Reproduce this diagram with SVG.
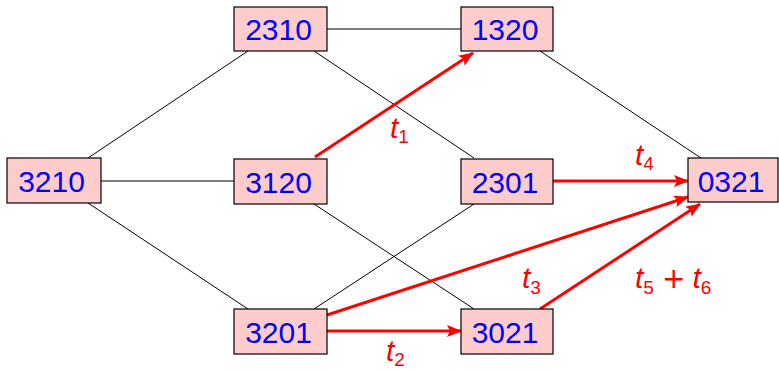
<svg xmlns="http://www.w3.org/2000/svg" width="779" height="370" viewBox="0 0 779 370">
  <defs>
    <marker id="arrow" viewBox="0 0 15 12" refX="14" refY="6" markerWidth="15" markerHeight="12" markerUnits="userSpaceOnUse" orient="auto">
      <path d="M0,0 L15,6 L0,12 L3,6 Z" fill="#ff0000"/>
    </marker>
  </defs>
  <style>
    .box { fill: #ffcccc; stroke: #000; stroke-width: 1.2; }
    .lbl { font-family: "Liberation Sans", Arial, sans-serif; font-size: 30px; fill: #0000ff; text-anchor: middle; }
    .edge { stroke: #000; stroke-width: 1; fill: none; }
    .trans { stroke: #ff0000; stroke-width: 3; fill: none; marker-end: url(#arrow); }
    .t { font-family: "Liberation Sans", Arial, sans-serif; font-size: 30px; fill: #ff0000; }
    .t .v { font-style: italic; }
    .t .s { font-size: 19px; }
    .t .op { font-family: "DejaVu Sans", sans-serif; font-size: 28px; }
  </style>

  <g id="connectors">
    <!-- plain edges -->
    <line class="edge" x1="88" y1="158" x2="248" y2="51"/>
    <line class="edge" x1="101" y1="181" x2="234" y2="181"/>
    <line class="edge" x1="88" y1="203" x2="248" y2="309"/>
    <line class="edge" x1="327" y1="29" x2="461" y2="29"/>
    <line class="edge" x1="314" y1="51" x2="474" y2="158"/>
    <line class="edge" x1="540" y1="51" x2="701" y2="158"/>
    <line class="edge" x1="314" y1="204" x2="474" y2="309"/>
    <line class="edge" x1="474" y1="204" x2="314" y2="309"/>
    <!-- transitions -->
    <line class="trans" x1="315" y1="157" x2="473" y2="53"/>
    <line class="trans" x1="553" y1="181" x2="688" y2="181"/>
    <line class="trans" x1="327" y1="315" x2="688" y2="197"/>
    <line class="trans" x1="540" y1="309" x2="700" y2="204"/>
    <line class="trans" x1="327" y1="331" x2="461" y2="331"/>
  </g>

  <g id="node-3210"><rect class="box" x="7" y="158" width="94" height="45"/><text class="lbl" x="51.5" y="192">3210</text></g>
  <g id="node-2310"><rect class="box" x="234" y="7" width="93" height="44"/><text class="lbl" x="278.5" y="40">2310</text></g>
  <g id="node-3120"><rect class="box" x="234" y="159" width="93" height="45"/><text class="lbl" x="278.5" y="193">3120</text></g>
  <g id="node-3201"><rect class="box" x="234" y="309" width="93" height="45"/><text class="lbl" x="278.5" y="343">3201</text></g>
  <g id="node-1320"><rect class="box" x="461" y="7" width="92" height="44"/><text class="lbl" x="505" y="40">1320</text></g>
  <g id="node-2301"><rect class="box" x="461" y="159" width="92" height="45"/><text class="lbl" x="505" y="193">2301</text></g>
  <g id="node-3021"><rect class="box" x="461" y="309" width="92" height="45"/><text class="lbl" x="505" y="343">3021</text></g>
  <g id="node-0321"><rect class="box" x="688" y="158" width="90" height="44"/><text class="lbl" x="731" y="192">0321</text></g>

  <g id="labels">
    <text class="t" x="390" y="138"><tspan class="v">t</tspan><tspan class="s" dy="5">1</tspan></text>
    <text class="t" x="386" y="361"><tspan class="v">t</tspan><tspan class="s" dy="5">2</tspan></text>
    <text class="t" x="522" y="288"><tspan class="v">t</tspan><tspan class="s" dy="6">3</tspan></text>
    <text class="t" x="635" y="165"><tspan class="v">t</tspan><tspan class="s" dy="5">4</tspan></text>
    <text class="t" x="635" y="288"><tspan class="v">t</tspan><tspan class="s" dy="6">5</tspan><tspan class="op" dy="-6" dx="8">+</tspan><tspan class="v" dx="7">t</tspan><tspan class="s" dy="6">6</tspan></text>
  </g>
</svg>
